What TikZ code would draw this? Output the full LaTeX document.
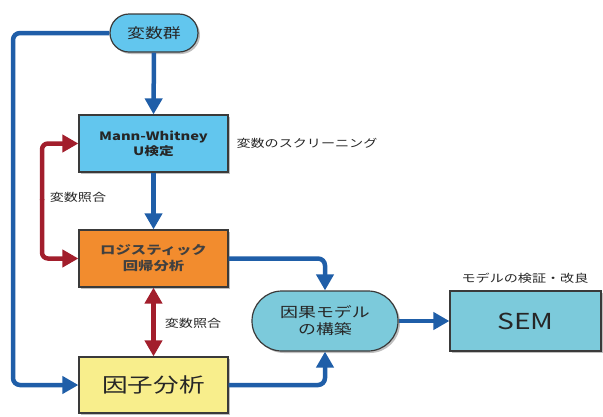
\documentclass[tikz,border=0pt]{standalone}
\usepackage{fontspec}
\setmainfont{Noto Sans CJK JP}[FakeStretch=1.28]
\usetikzlibrary{arrows.meta,shadows,shapes.misc}
\definecolor{lblue}{HTML}{62C6EE}
\definecolor{teal1}{HTML}{7CCADB}
\definecolor{orng}{HTML}{F28C2E}
\definecolor{ylw}{HTML}{F8EE8C}
\definecolor{lineblue}{HTML}{1F5EA8}
\definecolor{linered}{HTML}{A21E2C}
\definecolor{bord}{HTML}{3A3A3A}
\tikzset{
  x=1pt,y=-1pt,
  tip/.tip={Triangle[length=16pt,width=17pt]},
  boxst/.style={draw=bord,line width=1.2pt,minimum width=149pt,align=center,text=black!85,
    drop shadow={shadow xshift=2pt,shadow yshift=-2pt,opacity=0.5},inner sep=2pt},
  pill/.style={boxst,rounded rectangle},
  bl/.style={draw=lineblue,line width=4.5pt,-tip,rounded corners=7pt},
  rd/.style={draw=linered,line width=4.5pt,-tip,rounded corners=6pt},
  lbl/.style={font=\fontsize{11}{13}\selectfont,text=black!85}
}
\begin{document}
\begin{tikzpicture}
\useasboundingbox (0,0) rectangle (603,416);
\node[pill,fill=lblue,minimum width=92pt,minimum height=38pt,font=\fontsize{14}{16}\selectfont] (vars) at (154,33) {変数群};
\node[boxst,fill=lblue,minimum height=57pt,font=\bfseries\fontsize{11.5}{15}\selectfont] (mw) at (153.5,143.5) {Mann-Whitney\\U検定};
\node[boxst,fill=orng,minimum height=57pt,font=\bfseries\fontsize{12}{16}\selectfont,text=black!75] (lr) at (153.5,258.5) {ロジスティック\\回帰分析};
\node[boxst,fill=ylw,minimum height=56pt,font=\fontsize{20}{24}\selectfont] (fa) at (153.5,385) {因子分析};
\node[pill,fill=teal1,minimum width=150pt,minimum height=60pt,font=\fontsize{14}{17}\selectfont] (cm) at (325,321) {因果モデル\\の構築};
\node[boxst,fill=teal1,minimum width=151pt,minimum height=60pt,font=\fontsize{22}{26}\selectfont] (sem) at (525.5,321) {SEM};
\node[lbl,anchor=west] (scr) at (233,143) {変数のスクリーニング};
\node[lbl] (chk) at (525,278) {モデルの検証・改良};
\node[lbl] (m1) at (78,197) {変数照合};
\node[lbl] (m2) at (193,323) {変数照合};
% connectors
\draw[bl] (vars.south) -- (mw.north);
\draw[bl] (mw.south) -- (lr.north);
\draw[bl] (vars.west) -| (13,200) |- (fa.west);
\draw[bl] (lr.east) -| (cm.north);
\draw[bl] (fa.east) -| (cm.south);
\draw[bl] (cm.east) -- (sem.west);
\draw[rd,tip-tip] (lr.south) -- (fa.north);
\draw[rd] (42,200) |- (mw.west);
\draw[rd] (42,199) |- (lr.west);
\end{tikzpicture}
\end{document}
